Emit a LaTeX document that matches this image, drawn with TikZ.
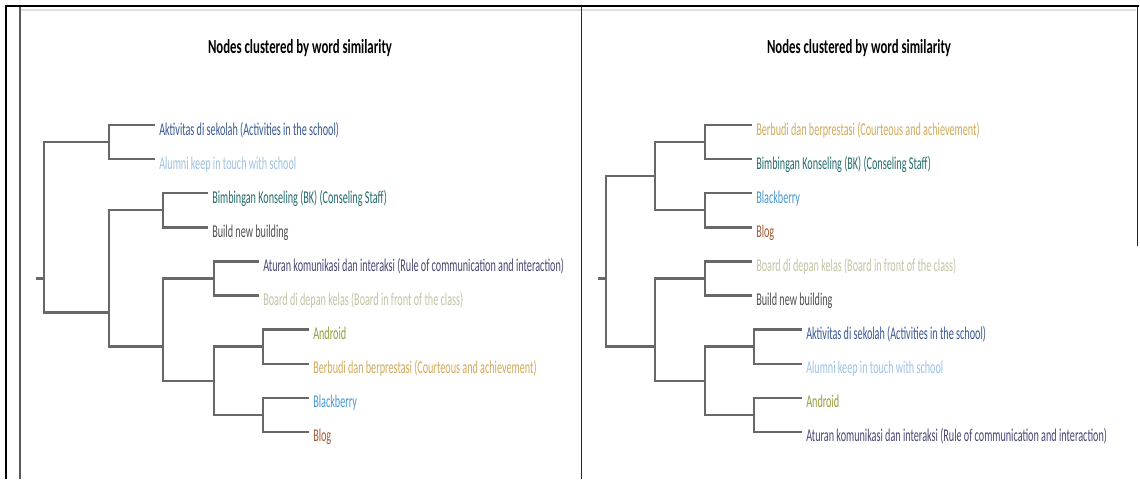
\documentclass[tikz,border=0pt]{standalone}
\usepackage{fontspec}
\newfontfamily\leaffont[FakeStretch=0.565]{Carlito}
\newfontfamily\headfont[FakeStretch=0.64]{Carlito}

\definecolor{cAkt}{RGB}{58,88,150}
\definecolor{cAlu}{RGB}{158,194,228}
\definecolor{cBim}{RGB}{38,108,108}
\definecolor{cBui}{RGB}{80,80,80}
\definecolor{cAtu}{RGB}{72,72,118}
\definecolor{cBoa}{RGB}{196,196,166}
\definecolor{cAnd}{RGB}{150,156,58}
\definecolor{cBer}{RGB}{210,170,92}
\definecolor{cBla}{RGB}{72,152,212}
\definecolor{cBlo}{RGB}{162,90,52}
\definecolor{branch}{RGB}{104,104,104}

\tikzset{
  leaf/.style={anchor=base west, inner sep=0pt, font=\leaffont\fontsize{13.5pt}{15pt}\selectfont},
  heading/.style={anchor=base, inner sep=0pt, font=\headfont\bfseries\fontsize{15pt}{17pt}\selectfont, text=black},
  branchline/.style={draw=branch, line width=1.8pt, line cap=butt, line join=miter},
  frameline/.style={draw=black, line width=1.9pt},
  divider/.style={draw=black!85, line width=0.8pt},
}

\begin{document}
\begin{tikzpicture}[x=0.75pt, y=-0.75pt]
  \useasboundingbox (0,0) rectangle (1140,479);
  \fill[white] (0,0) rectangle (1140,479);

  % outer frame and panel divider
  \draw[black!12, line width=1.5pt] (21,9.5) -- (1136,9.5);
  \draw[frameline] (4.5,6) -- (1139,6);
  \draw[frameline] (6,5) -- (6,479);
  \draw[draw=black!65, line width=1pt] (20,7) -- (20,479);
  \draw[divider] (581.5,7) -- (581.5,479);
  \draw[divider] (1137.5,7) -- (1137.5,246);

  % panel titles
  \node[heading] (titleL) at (300,53) {Nodes clustered by word similarity};
  \node[heading] (titleR) at (859,53) {Nodes clustered by word similarity};

  % ---------- left dendrogram ----------
  \coordinate (La0) at (155,125.0);
  \coordinate (La1) at (155,159.1);
  \coordinate (La2) at (208,193.2);
  \coordinate (La3) at (208,227.3);
  \coordinate (La4) at (259,261.4);
  \coordinate (La5) at (259,295.5);
  \coordinate (La6) at (309,329.6);
  \coordinate (La7) at (309,363.7);
  \coordinate (La8) at (309,397.8);
  \coordinate (La9) at (309,431.9);

  \node[leaf, text=cAkt] (L0) at (159,135.0) {Aktivitas di sekolah (Activities in the school)};
  \node[leaf, text=cAlu] (L1) at (159,169.1) {Alumni keep in touch with school};
  \node[leaf, text=cBim] (L2) at (212,203.2) {Bimbingan Konseling (BK) (Conseling Staff)};
  \node[leaf, text=cBui] (L3) at (212,237.3) {Build new building};
  \node[leaf, text=cAtu] (L4) at (263,271.4) {Aturan komunikasi dan interaksi (Rule of communication and interaction)};
  \node[leaf, text=cBoa] (L5) at (263,305.5) {Board di depan kelas (Board in front of the class)};
  \node[leaf, text=cAnd] (L6) at (313,339.6) {Android};
  \node[leaf, text=cBer] (L7) at (313,373.7) {Berbudi dan berprestasi (Courteous and achievement)};
  \node[leaf, text=cBla] (L8) at (313,407.8) {Blackberry};
  \node[leaf, text=cBlo] (L9) at (313,441.9) {Blog};

  \coordinate (LA)    at (109,142.05);
  \coordinate (LB)    at (163,210.25);
  \coordinate (LC)    at (214,278.45);
  \coordinate (LD)    at (263,346.65);
  \coordinate (LE)    at (263,414.85);
  \coordinate (LDE)   at (214,380.75);
  \coordinate (LCDE)  at (163,346.65);
  \coordinate (LBCDE) at (109,312.55);
  \coordinate (Lroot) at (44,278.45);
  \coordinate (Lstub) at (36,278.45);

  \draw[branchline] (La0) -| (LA) |- (La1);
  \draw[branchline] (La2) -| (LB) |- (La3);
  \draw[branchline] (La4) -| (LC) |- (La5);
  \draw[branchline] (La6) -| (LD) |- (La7);
  \draw[branchline] (La8) -| (LE) |- (La9);
  \draw[branchline] (LD) -| (LDE) |- (LE);
  \draw[branchline] (LC) -| (LCDE) |- (LDE);
  \draw[branchline] (LB) -| (LBCDE) |- (LCDE);
  \draw[branchline] (LA) -| (Lroot) |- (LBCDE);
  \draw[branchline] (Lstub) -- (Lroot);

  % ---------- right dendrogram ----------
  \coordinate (Ra0) at (752,125.0);
  \coordinate (Ra1) at (752,159.1);
  \coordinate (Ra2) at (752,193.2);
  \coordinate (Ra3) at (752,227.3);
  \coordinate (Ra4) at (752,261.4);
  \coordinate (Ra5) at (752,295.5);
  \coordinate (Ra6) at (802,329.6);
  \coordinate (Ra7) at (802,363.7);
  \coordinate (Ra8) at (802,397.8);
  \coordinate (Ra9) at (802,431.9);

  \node[leaf, text=cBer] (R0) at (756,135.0) {Berbudi dan berprestasi (Courteous and achievement)};
  \node[leaf, text=cBim] (R1) at (756,169.1) {Bimbingan Konseling (BK) (Conseling Staff)};
  \node[leaf, text=cBla] (R2) at (756,203.2) {Blackberry};
  \node[leaf, text=cBlo] (R3) at (756,237.3) {Blog};
  \node[leaf, text=cBoa] (R4) at (756,271.4) {Board di depan kelas (Board in front of the class)};
  \node[leaf, text=cBui] (R5) at (756,305.5) {Build new building};
  \node[leaf, text=cAkt] (R6) at (806,339.6) {Aktivitas di sekolah (Activities in the school)};
  \node[leaf, text=cAlu] (R7) at (806,373.7) {Alumni keep in touch with school};
  \node[leaf, text=cAnd] (R8) at (806,407.8) {Android};
  \node[leaf, text=cAtu] (R9) at (806,441.9) {Aturan komunikasi dan interaksi (Rule of communication and interaction)};

  \coordinate (RP)    at (705,142.05);
  \coordinate (RQ)    at (705,210.25);
  \coordinate (RPQ)   at (655,176.15);
  \coordinate (RR)    at (705,278.45);
  \coordinate (RS)    at (754,346.65);
  \coordinate (RT)    at (754,414.85);
  \coordinate (RST)   at (705,380.75);
  \coordinate (RRST)  at (655,346.65);
  \coordinate (Rroot) at (606,278.45);
  \coordinate (Rstub) at (598,278.45);

  \draw[branchline] (Ra0) -| (RP) |- (Ra1);
  \draw[branchline] (Ra2) -| (RQ) |- (Ra3);
  \draw[branchline] (Ra4) -| (RR) |- (Ra5);
  \draw[branchline] (Ra6) -| (RS) |- (Ra7);
  \draw[branchline] (Ra8) -| (RT) |- (Ra9);
  \draw[branchline] (RP) -| (RPQ) |- (RQ);
  \draw[branchline] (RS) -| (RST) |- (RT);
  \draw[branchline] (RR) -| (RRST) |- (RST);
  \draw[branchline] (RPQ) -| (Rroot) |- (RRST);
  \draw[branchline] (Rstub) -- (Rroot);
\end{tikzpicture}
\end{document}
